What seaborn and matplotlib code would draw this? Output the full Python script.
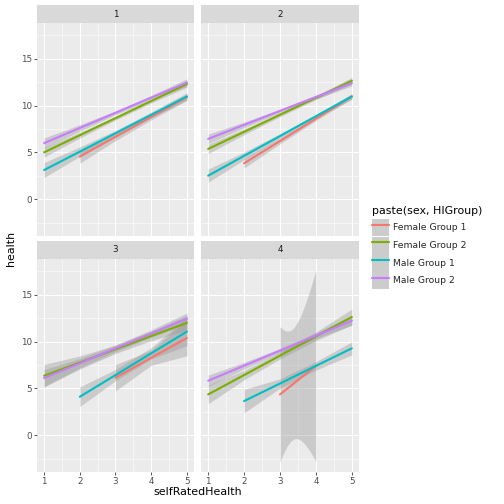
import matplotlib
matplotlib.use("Agg")
import matplotlib.pyplot as plt
import seaborn as sns
import pandas as pd
from matplotlib.patches import Rectangle, Patch
from matplotlib.lines import Line2D

# ---------------- data ----------------
panels = ["1", "2", "3", "4"]
groups = ["Female Group 1", "Female Group 2", "Male Group 1", "Male Group 2"]
colors = ["#F8766D", "#7CAE00", "#00BFC4", "#C77CFF"]

# x values, fitted values, half-widths of the confidence band
x_1to5 = [1, 2, 3, 4, 5]
x_2to5 = [2, 3, 4, 5]
x_3to5 = [3, 4, 5]
x_3to4 = [3.0, 3.1, 3.2, 3.3, 3.4, 3.5, 3.6, 3.7, 3.8, 3.9, 4.0]

# panel 1
p1_f1_fit = [4.56, 6.67, 8.78, 10.90];        p1_f1_hw = [0.70, 0.40, 0.30, 0.35]
p1_f2_fit = [5.02, 6.84, 8.66, 10.48, 12.30]; p1_f2_hw = [0.50, 0.30, 0.20, 0.20, 0.35]
p1_m1_fit = [3.13, 5.09, 7.05, 9.01, 10.97];  p1_m1_hw = [0.80, 0.50, 0.30, 0.30, 0.40]
p1_m2_fit = [6.00, 7.61, 9.23, 10.84, 12.45]; p1_m2_hw = [0.55, 0.35, 0.20, 0.25, 0.40]
# panel 2
p2_f1_fit = [3.85, 6.22, 8.60, 10.97];        p2_f1_hw = [0.50, 0.30, 0.20, 0.25]
p2_f2_fit = [5.38, 7.20, 9.02, 10.83, 12.65]; p2_f2_hw = [0.50, 0.30, 0.20, 0.20, 0.35]
p2_m1_fit = [2.53, 4.64, 6.75, 8.86, 10.97];  p2_m1_hw = [0.70, 0.40, 0.25, 0.20, 0.30]
p2_m2_fit = [6.45, 7.94, 9.43, 10.91, 12.40]; p2_m2_hw = [0.50, 0.30, 0.20, 0.20, 0.30]
# panel 3
p3_f1_fit = [6.15, 8.27, 10.38];              p3_f1_hw = [1.40, 0.80, 1.90]
p3_f2_fit = [6.36, 7.77, 9.18, 10.59, 12.00]; p3_f2_hw = [1.20, 0.70, 0.45, 0.50, 0.80]
p3_m1_fit = [4.12, 6.43, 8.75, 11.06];        p3_m1_hw = [1.05, 0.60, 0.60, 1.50]
p3_m2_fit = [6.11, 7.69, 9.28, 10.86, 12.44]; p3_m2_hw = [0.90, 0.50, 0.35, 0.40, 0.60]
# panel 4
p4_f1_fit = [4.37, 4.67, 4.98, 5.28, 5.59, 5.89, 6.19, 6.50, 6.80, 7.11, 7.41]
p4_f1_hw = [7.21, 6.57, 6.12, 5.90, 5.95, 6.25, 6.77, 7.46, 8.29, 9.21, 10.20]
p4_f2_fit = [4.37, 6.43, 8.50, 10.56, 12.62]; p4_f2_hw = [1.00, 0.50, 0.35, 0.45, 0.85]
p4_m1_fit = [3.66, 5.53, 7.41, 9.28];         p4_m1_hw = [1.25, 0.50, 0.45, 0.70]
p4_m2_fit = [5.83, 7.43, 9.03, 10.63, 12.23]; p4_m2_hw = [0.60, 0.35, 0.25, 0.30, 0.50]

series = [
    ("1", "Female Group 1", x_2to5, p1_f1_fit, p1_f1_hw),
    ("1", "Female Group 2", x_1to5, p1_f2_fit, p1_f2_hw),
    ("1", "Male Group 1", x_1to5, p1_m1_fit, p1_m1_hw),
    ("1", "Male Group 2", x_1to5, p1_m2_fit, p1_m2_hw),
    ("2", "Female Group 1", x_2to5, p2_f1_fit, p2_f1_hw),
    ("2", "Female Group 2", x_1to5, p2_f2_fit, p2_f2_hw),
    ("2", "Male Group 1", x_1to5, p2_m1_fit, p2_m1_hw),
    ("2", "Male Group 2", x_1to5, p2_m2_fit, p2_m2_hw),
    ("3", "Female Group 1", x_3to5, p3_f1_fit, p3_f1_hw),
    ("3", "Female Group 2", x_1to5, p3_f2_fit, p3_f2_hw),
    ("3", "Male Group 1", x_2to5, p3_m1_fit, p3_m1_hw),
    ("3", "Male Group 2", x_1to5, p3_m2_fit, p3_m2_hw),
    ("4", "Female Group 1", x_3to4, p4_f1_fit, p4_f1_hw),
    ("4", "Female Group 2", x_1to5, p4_f2_fit, p4_f2_hw),
    ("4", "Male Group 1", x_2to5, p4_m1_fit, p4_m1_hw),
    ("4", "Male Group 2", x_1to5, p4_m2_fit, p4_m2_hw),
]

rows = []
for panel, grp, xs, fits, hws in series:
    for xv, fv, hv in zip(xs, fits, hws):
        rows.append({"panel": panel, "group": grp, "selfRatedHealth": xv,
                     "health": fv, "lo": fv - hv, "hi": fv + hv})
df = pd.DataFrame(rows)

x_ticks = [1, 2, 3, 4, 5]
y_ticks = [0, 5, 10, 15]

# ---------------- figure ----------------
sns.set_theme(style="darkgrid")
plt.rcParams["font.family"] = ["DejaVu Sans"]

W = H = 504
g = sns.FacetGrid(df, col="panel", col_wrap=2, col_order=panels,
                  sharex=True, sharey=True, height=3.5, aspect=1.0)
fig = g.figure
fig.set_size_inches(7, 7)
fig.set_dpi(72)
fig.patch.set_facecolor("white")

pos = {
    "1": (37, 23, 194, 236),
    "2": (201, 23, 359, 236),
    "3": (37, 259, 194, 472),
    "4": (201, 259, 359, 472),
}
pal = dict(zip(groups, colors))

for ax, panel in zip(g.axes.flat, panels):
    l, t, r, b = pos[panel]
    ax.set_position([l / W, 1 - b / H, (r - l) / W, (b - t) / H])
    ax.set_facecolor("#EBEBEB")
    for s in ax.spines.values():
        s.set_visible(False)
    sub_p = df[df.panel == panel]
    for grp in groups:
        sub = sub_p[sub_p.group == grp]
        ax.fill_between(sub["selfRatedHealth"], sub["lo"], sub["hi"],
                        color="#999999", alpha=0.4, lw=0, zorder=2)
        sns.lineplot(data=sub, x="selfRatedHealth", y="health", ax=ax,
                     color=pal[grp], lw=2.1, estimator=None, legend=False,
                     zorder=3)
    ax.set_xlim(0.8, 5.2)
    ax.set_ylim(-3.9, 18.8)
    ax.set_xticks(x_ticks)
    ax.set_yticks(y_ticks)
    ax.set_xticks([1.5, 2.5, 3.5, 4.5], minor=True)
    ax.set_yticks([-2.5, 2.5, 7.5, 12.5, 17.5], minor=True)
    ax.grid(which="major", color="white", lw=1.07)
    ax.grid(which="minor", color="white", lw=0.53)
    ax.set_axisbelow(True)
    ax.tick_params(which="minor", length=0)
    ax.tick_params(which="major", length=2.75, width=0.8, color="#333333",
                   labelsize=8.8, labelcolor="#4D4D4D", pad=2)
    ax.set_xlabel("")
    ax.set_ylabel("")
    ax.set_title("")
    if panel in ("1", "2"):
        ax.tick_params(axis="x", which="major", bottom=False, labelbottom=False)
    else:
        ax.tick_params(axis="x", labelbottom=True, bottom=True)
    if panel in ("2", "4"):
        ax.tick_params(axis="y", which="major", left=False, labelleft=False)
    else:
        ax.tick_params(axis="y", labelleft=True, left=True)
    # strip
    strip_h = 18 / (b - t)
    ax.add_patch(Rectangle((0, 1), 1, strip_h, transform=ax.transAxes,
                           facecolor="#D9D9D9", edgecolor="none", clip_on=False))
    ax.text(0.5, 1 + strip_h / 2, panel, transform=ax.transAxes,
            ha="center", va="center", fontsize=8.8, color="#1A1A1A")

fig.text(198 / W, 1 - 492 / H, "selfRatedHealth", ha="center", va="center",
         fontsize=11, color="black")
fig.text(11 / W, 1 - 248 / H, "health", ha="center", va="center",
         rotation=90, fontsize=11, color="black")

# legend
fig.text(372 / W, 1 - 211 / H, "paste(sex, HIGroup)", ha="left", va="center",
         fontsize=11, color="black")
handles = [(Patch(facecolor="#CCCCCC", edgecolor="none"),
            Line2D([], [], color=c, lw=2.1)) for c in colors]
fig.legend(handles, groups, loc="upper left",
           bbox_to_anchor=(372 / W, 1 - 219 / H), frameon=False,
           fontsize=9.2, handlelength=1.87,
           handleheight=2.5, labelspacing=0.05, handletextpad=0.4,
           borderpad=0.0, borderaxespad=0)

fig.savefig("out.png", dpi=72, facecolor="white")
